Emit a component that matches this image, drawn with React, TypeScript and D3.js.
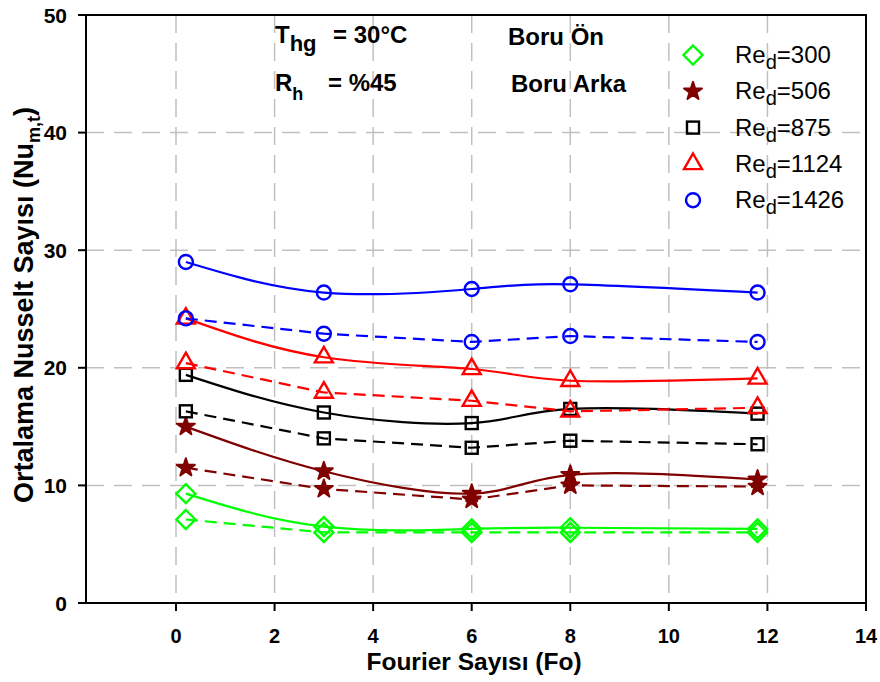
import React from "react";
import * as d3 from "d3";

const fourier = [0.2, 3, 6, 8, 11.8];
const seriesNames = ["300", "506", "875", "1124", "1426"];
const seriesColors = ["#00ff00", "#800000", "#000000", "#ff0000", "#0000ff"];
const seriesShapes = ["diamond", "star", "square", "triangle", "circle"];
// Boru Ön (solid) values
const onValues = [
  [9.3, 6.5, 6.3, 6.4, 6.3],
  [15.0, 11.2, 9.3, 10.9, 10.5],
  [19.4, 16.2, 15.3, 16.5, 16.1],
  [24.2, 20.9, 19.9, 18.9, 19.1],
  [29.0, 26.4, 26.7, 27.1, 26.4],
];
// Boru Arka (dashed) values
const arkaValues = [
  [7.1, 6.0, 6.0, 6.0, 6.0],
  [11.5, 9.7, 8.8, 10.0, 9.9],
  [16.3, 14.0, 13.2, 13.8, 13.5],
  [20.4, 17.9, 17.2, 16.3, 16.6],
  [24.2, 22.9, 22.2, 22.7, 22.2],
];
const xTicks = [0, 2, 4, 6, 8, 10, 12, 14];
const yTicks = [0, 10, 20, 30, 40, 50];

const W = 880, H = 682;
const L = 86, R = 866, T = 15, B = 603;

function Marker({ shape, x, y, color }: { shape: string; x: number; y: number; color: string }) {
  const sw = 2.4;
  if (shape === "diamond") {
    const s = 9.5;
    return <path d={`M${x},${y - s}L${x + s},${y}L${x},${y + s}L${x - s},${y}Z`} fill="none" stroke={color} strokeWidth={sw} />;
  }
  if (shape === "square") {
    const s = 6;
    return <rect x={x - s} y={y - s} width={2 * s} height={2 * s} fill="none" stroke={color} strokeWidth={sw} />;
  }
  if (shape === "triangle") {
    const p = d3.symbol(d3.symbolTriangle, 140)();
    return <path d={p || ""} transform={`translate(${x},${y})`} fill="none" stroke={color} strokeWidth={sw} />;
  }
  if (shape === "circle") {
    return <circle cx={x} cy={y} r={7} fill="none" stroke={color} strokeWidth={sw} />;
  }
  const p = d3.symbol(d3.symbolStar, 100)();
  return <path d={p || ""} transform={`translate(${x},${y})`} fill={color} stroke={color} strokeWidth={2} strokeLinejoin="round" />;
}

export default function App() {
  const x = d3.scaleLinear().domain([0, 14]).range([176, R]);
  const y = d3.scaleLinear().domain([0, 50]).range([B, T]);
  const solid = d3.line<number>().x((_, i) => x(fourier[i])).y((v) => y(v)).curve(d3.curveNatural);
  const dashed = d3.line<number>().x((_, i) => x(fourier[i])).y((v) => y(v)).curve(d3.curveLinear);
  const font = "'Liberation Sans', Arial, sans-serif";
  return (
    <svg width={W} height={H} style={{ position: "absolute", left: 0, top: 0 }} fontFamily={font}>
      <rect width={W} height={H} fill="#fff" />
      {xTicks.slice(0, -1).map((t) => (
        <line key={"gx" + t} x1={x(t)} x2={x(t)} y1={T} y2={B} stroke="#c0c0c0" strokeWidth={1.5} strokeDasharray="18,10" />
      ))}
      {yTicks.slice(1, -1).map((t) => (
        <line key={"gy" + t} x1={L} x2={R} y1={y(t)} y2={y(t)} stroke="#c0c0c0" strokeWidth={1.5} strokeDasharray="18,10" />
      ))}
      {onValues.map((vals, si) => (
        <path key={"s" + si} d={solid(vals) || ""} fill="none" stroke={seriesColors[si]} strokeWidth={2.2} />
      ))}
      {arkaValues.map((vals, si) => (
        <path key={"d" + si} d={dashed(vals) || ""} fill="none" stroke={seriesColors[si]} strokeWidth={2.2} strokeDasharray="12,7" />
      ))}
      {[...onValues, ...arkaValues].map((vals, k) =>
        vals.map((v, i) => (
          <Marker key={k + "-" + i} shape={seriesShapes[k % 5]} x={x(fourier[i])} y={y(v)} color={seriesColors[k % 5]} />
        ))
      )}
      <rect x={L} y={T} width={R - L} height={B - T} fill="none" stroke="#000" strokeWidth={2} />
      {yTicks.map((t) => (
        <g key={"yt" + t}>
          <line x1={L - 8} x2={L} y1={y(t)} y2={y(t)} stroke="#000" strokeWidth={2} />
          <text x={67} y={y(t)} dy="0.36em" textAnchor="end" fontWeight="bold" fontSize={21}>{t}</text>
        </g>
      ))}
      {xTicks.map((t) => (
        <g key={"xt" + t}>
          <line x1={x(t)} x2={x(t)} y1={B} y2={B + 8} stroke="#000" strokeWidth={2} />
          <text x={x(t)} y={643} textAnchor="middle" fontWeight="bold" fontSize={20}>{t}</text>
        </g>
      ))}
      <text x={474} y={670} textAnchor="middle" fontWeight="bold" fontSize={24.5}>Fourier Sayısı (Fo)</text>
      <text transform="translate(33,305) rotate(-90)" textAnchor="middle" fontWeight="bold" fontSize={27}>
        Ortalama Nusselt Sayısı (Nu<tspan fontSize={18} dy={7}>m,t</tspan><tspan dy={-7}>)</tspan>
      </text>
      <text y={43} fontWeight="bold" fontSize={24}>
        <tspan x={275}>T</tspan><tspan fontSize={22} dy={8}>hg</tspan><tspan x={333} dy={-8}>= 30°C</tspan>
      </text>
      <text y={91} fontWeight="bold" fontSize={24}>
        <tspan x={275}>R</tspan><tspan fontSize={18} dy={9}>h</tspan><tspan x={328} dy={-9}>= %45</tspan>
      </text>
      <text x={508} y={45} fontWeight="bold" fontSize={24}>Boru Ön</text>
      <text x={511} y={92} fontWeight="bold" fontSize={24}>Boru Arka</text>
      {seriesNames.map((n, i) => {
        const ly = 55 + i * 36.3;
        return (
          <g key={"lg" + i}>
            <Marker shape={seriesShapes[i]} x={693} y={ly} color={seriesColors[i]} />
            <text x={735} y={ly + 8} fontSize={24}>Re<tspan fontSize={20} dy={6}>d</tspan><tspan dy={-6}>={n}</tspan></text>
          </g>
        );
      })}
    </svg>
  );
}
